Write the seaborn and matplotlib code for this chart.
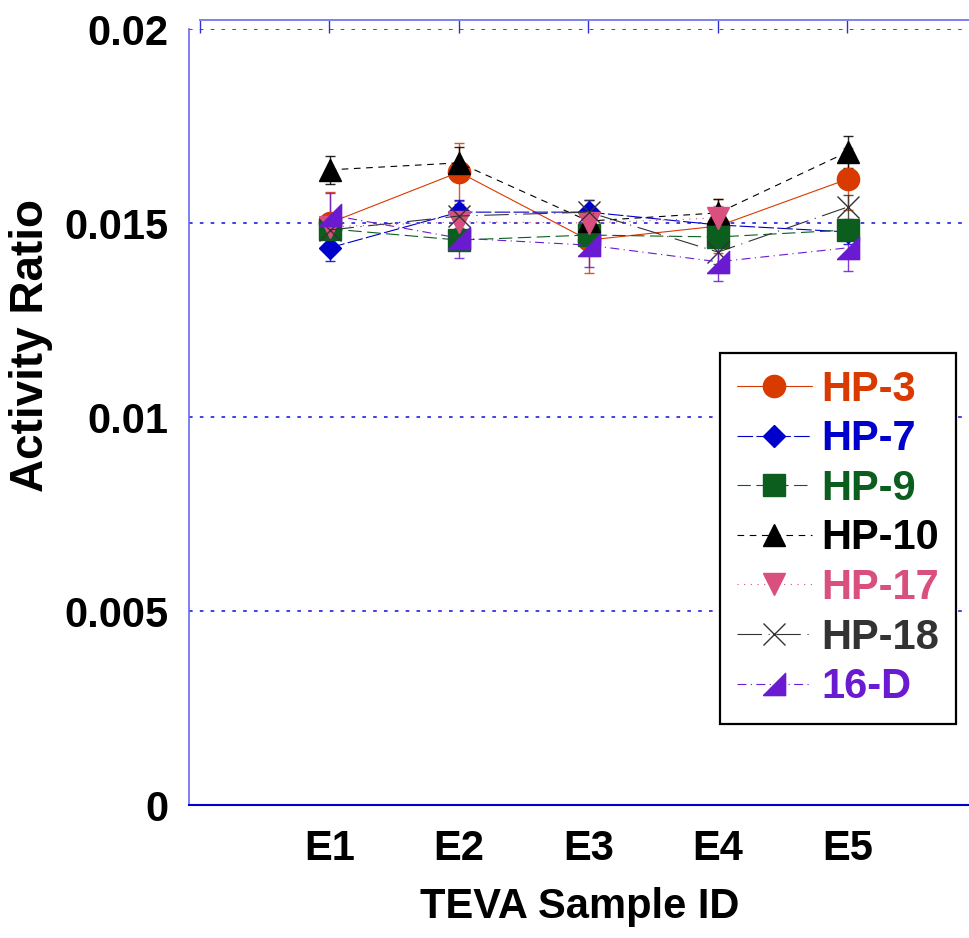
import numpy as np
import matplotlib
matplotlib.use("Agg")
import matplotlib.pyplot as plt
from matplotlib.ticker import FixedLocator, MultipleLocator, FuncFormatter
import seaborn as sns

# Activity ratio per TEVA sample for each source
samples = ["E1", "E2", "E3", "E4", "E5"]
series_names = ["HP-3", "HP-7", "HP-9", "HP-10", "HP-17", "HP-18", "16-D"]

hp3 = [0.01500, 0.01631, 0.01456, 0.01492, 0.01613]
hp7 = [0.01436, 0.01528, 0.01528, 0.01495, 0.01477]
hp9 = [0.01485, 0.01456, 0.01469, 0.01464, 0.01482]
hp10 = [0.01637, 0.01655, 0.01505, 0.01526, 0.01683]
hp17 = [0.01490, 0.01503, 0.01500, 0.01513, np.nan]
hp18 = [0.01482, 0.01518, 0.01528, 0.01425, 0.01541]
d16 = [0.01521, 0.01461, 0.01443, 0.01400, 0.01436]

hp3_err = [0.0008, 0.00075, 0.00085, 0.0007, 0.0008]
hp7_err = [0.00033, 0.0003, 0.0003, 0.0003, 0.0003]
hp9_err = [0.0002, 0.0002, 0.0002, 0.0002, 0.0002]
hp10_err = [0.00036, 0.0004, 0.0004, 0.00036, 0.0004]
hp17_err = [0.0003, 0.0003, 0.0003, 0.0003, np.nan]
hp18_err = [0.0003, 0.0003, 0.0003, 0.0003, 0.0003]
d16_err = [0.00057, 0.0005, 0.00057, 0.0005, 0.0006]

y_ticks = [0.0, 0.005, 0.01, 0.015, 0.02]

values = [hp3, hp7, hp9, hp10, hp17, hp18, d16]
errors = [hp3_err, hp7_err, hp9_err, hp10_err, hp17_err, hp18_err, d16_err]

colors = ["#D93A00", "#0000CC", "#0B5E1E", "#000000", "#D94F7E", "#333333", "#6A1BD1"]
half_triangle = [(-1, -1), (1, -1), (1, 1), (-1, -1)]
markers = ["o", "D", "s", "^", "v", "x", half_triangle]
msizes = [16, 11, 16, 16, 16, 16, 16]
styles = ["-", (0, (14, 3)), (0, (12, 5)), (0, (6, 5)), (0, (1, 5)),
          (0, (22, 6, 1, 6)), (0, (8, 4, 1, 4))]

sns.set_style("white")
plt.rcParams["font.family"] = ["Liberation Sans", "DejaVu Sans"]
plt.rcParams["font.weight"] = "bold"
plt.rcParams["font.size"] = 30
for key in ["text.color", "axes.labelcolor", "xtick.labelcolor", "ytick.labelcolor"]:
    plt.rcParams[key] = "black"

fig = plt.figure(figsize=(9.7, 9.38), dpi=100)
W, H = 970, 938

# Offset frame carrying the top line and its ticks
ax_top = fig.add_axes([200 / W, 133 / H, 770 / W, 785 / H])
ax_top.patch.set_visible(False)
for side in ["left", "right", "bottom"]:
    ax_top.spines[side].set_visible(False)
ax_top.spines["top"].set_color("#8080EE")
ax_top.spines["top"].set_linewidth(1.4)
ax_top.set_xlim(0, 770 / 129.5)
ax_top.xaxis.set_ticks_position("top")
ax_top.set_xticks(range(6))
ax_top.set_xticklabels([])
ax_top.tick_params(axis="x", direction="in", length=9.5, width=1, color="#3030D8")
ax_top.set_yticks([])

ax = fig.add_axes([189 / W, 133 / H, 781 / W, 776 / H])
ax.patch.set_visible(False)
ax.set_xlim(-11 / 129.5, 770 / 129.5)
ax.set_ylim(0, 0.02)

xpos = np.arange(1, len(samples) + 1)
handles = []
for i, (name, vals, err) in enumerate(zip(series_names, values, errors)):
    c = colors[i]
    ax.errorbar(xpos, vals, yerr=err, fmt="none", ecolor=c, elinewidth=1.0,
                capsize=3.6, capthick=1.0, zorder=2 + i * 0.1, alpha=0.85)
    sns.lineplot(x=xpos, y=vals, ax=ax, color=c, marker=markers[i],
                 markersize=msizes[i], markeredgecolor=c, markeredgewidth=1.0,
                 linewidth=0.8, linestyle=styles[i], label=name,
                 zorder=3 + i * 0.1, legend=False)
    handles.append(ax.lines[-1])

# Axes decoration
ax.spines["top"].set_visible(False)
ax.spines["right"].set_visible(False)
ax.spines["left"].set_color("#6A6AEE")
ax.spines["left"].set_linewidth(1.2)
ax.spines["bottom"].set_color("#0000C8")
ax.spines["bottom"].set_linewidth(1.5)

ax.xaxis.set_major_locator(FixedLocator(list(range(6))))
ax.set_xticklabels([""] + samples)
ax.tick_params(axis="x", direction="in", length=9.5, width=1, color="#3030D8",
               pad=17, labelsize=30, labelcolor="black")

ax.yaxis.set_major_locator(FixedLocator(y_ticks))
ax.yaxis.set_minor_locator(MultipleLocator(0.001))
ax.yaxis.set_major_formatter(FuncFormatter(lambda v, p: f"{v:g}"))
ax.tick_params(axis="y", which="major", direction="in", length=9.5, width=1,
               color="#2020D0", pad=15, labelsize=30, labelcolor="black")
ax.tick_params(axis="y", which="minor", direction="in", length=4.5, width=1,
               color="#2020D0")
ax.set_axisbelow(True)
ax.yaxis.grid(True, which="major", color="#3030E8", linestyle=(0, (2, 4)),
              linewidth=1.3)
ax.xaxis.grid(False)

ax.set_xlabel("TEVA Sample ID", fontsize=30, fontweight="bold", labelpad=13,
              color="black")
fig.text(31 / W, 1 - 345 / H, "Activity Ratio", rotation=90, ha="center",
         va="center", fontsize=33, fontweight="bold", color="black")

leg = ax.legend(handles, series_names, loc="upper left",
                bbox_to_anchor=(720 / W, 1 - 353 / H),
                bbox_transform=fig.transFigure, borderaxespad=0,
                fontsize=30, handlelength=1.8, handletextpad=0.24,
                labelspacing=0.23, borderpad=0.4, fancybox=False,
                framealpha=1, edgecolor="black", labelcolor=colors)
leg.get_frame().set_linewidth(1.6)
for t in leg.get_texts():
    t.set_fontweight("bold")

fig.savefig("out.png", dpi=100, facecolor="white")
